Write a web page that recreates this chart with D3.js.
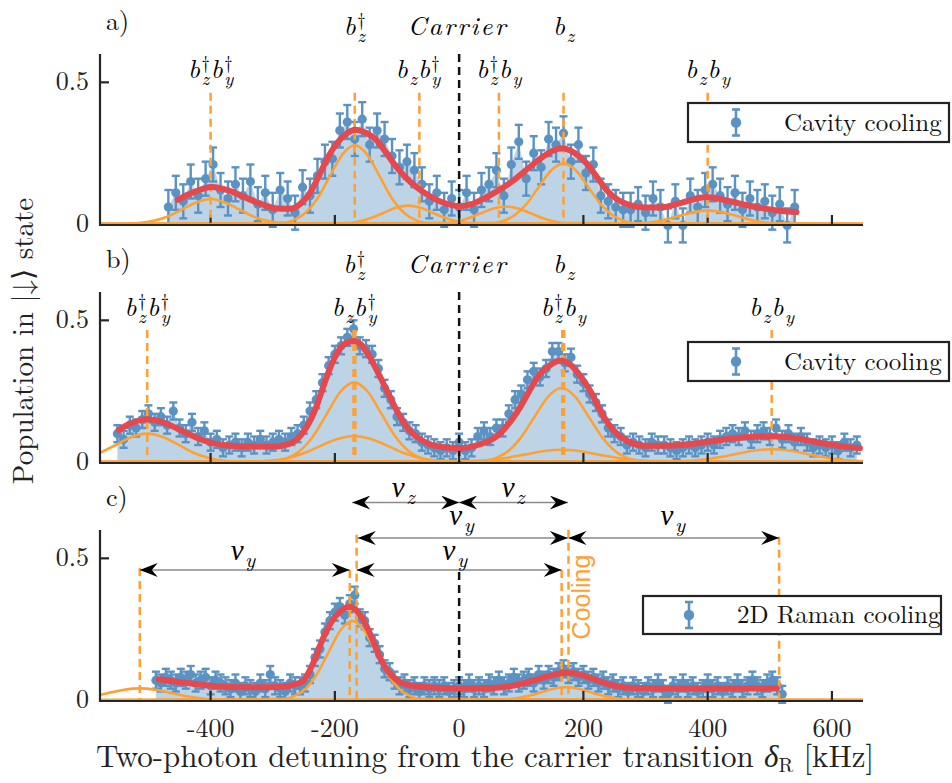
<!DOCTYPE html>
<html>
<head>
<meta charset="utf-8">
<style>
  body { margin: 0; background: #fff; }
  svg { display: block; }
</style>
</head>
<body>
<svg id="chart" width="952" height="783"></svg>
<script src="https://d3js.org/d3.v7.min.js"></script>
<script>
'use strict';

// ---- data: [detuning kHz, population] ----
const xTicks = [-400, -200, 0, 200, 400, 600];
const yTicks = [0, 0.5];
const panelNames = ['a)', 'b)', 'c)'];
const legendNames = ['Cavity cooling', 'Cavity cooling', '2D Raman cooling'];

const scanA = [[-468,0.06],[-456,0.11],[-444,0.08],[-432,0.15],[-420,0.10],[-408,0.16],[-396,0.21],[-384,0.12],[-372,0.09],[-360,0.14],[-348,0.10],[-336,0.15],[-324,0.07],[-312,0.11],[-300,0.05],[-288,0.12],[-276,0.09],[-264,0.04],[-252,0.13],[-240,0.10],[-228,0.17],[-216,0.22],[-204,0.23],[-192,0.33],[-180,0.36],[-168,0.30],[-156,0.37],[-144,0.28],[-132,0.33],[-120,0.30],[-108,0.24],[-96,0.20],[-84,0.22],[-72,0.19],[-60,0.14],[-48,0.08],[-36,0.11],[-24,0.05],[-12,0.09],[0,0.06],[12,0.11],[24,0.05],[36,0.12],[48,0.14],[60,0.19],[72,0.10],[84,0.21],[96,0.29],[108,0.16],[120,0.25],[132,0.20],[144,0.30],[156,0.28],[168,0.32],[180,0.22],[192,0.28],[204,0.18],[216,0.21],[228,0.10],[240,0.08],[252,0.06],[264,0.05],[276,0.05],[288,0.07],[300,0.04],[312,0.09],[324,0.06],[336,-0.005],[348,0.08],[360,-0.005],[372,0.10],[384,0.06],[396,0.12],[408,0.14],[420,0.10],[432,0.07],[444,0.11],[456,0.05],[468,0.09],[480,0.06],[492,0.08],[504,0.04],[516,0.07],[528,-0.005],[540,0.06]];
const errA = 0.06;

const scanB = [[-550,0.10],[-540,0.08],[-530,0.13],[-520,0.12],[-510,0.15],[-500,0.17],[-490,0.14],[-480,0.16],[-470,0.13],[-460,0.18],[-450,0.12],[-440,0.10],[-430,0.14],[-420,0.09],[-410,0.11],[-400,0.07],[-390,0.08],[-380,0.05],[-370,0.06],[-360,0.07],[-350,0.05],[-340,0.07],[-330,0.06],[-320,0.08],[-310,0.06],[-300,0.07],[-290,0.08],[-280,0.07],[-270,0.09],[-260,0.10],[-250,0.13],[-240,0.18],[-230,0.22],[-220,0.28],[-210,0.34],[-200,0.38],[-190,0.41],[-180,0.44],[-170,0.47],[-160,0.41],[-150,0.40],[-140,0.38],[-130,0.33],[-120,0.26],[-110,0.22],[-100,0.16],[-90,0.14],[-80,0.11],[-70,0.10],[-60,0.07],[-50,0.06],[-40,0.05],[-30,0.04],[-20,0.05],[-10,0.04],[0,0.07],[10,0.04],[20,0.05],[30,0.09],[40,0.11],[50,0.09],[60,0.12],[70,0.12],[80,0.17],[90,0.22],[100,0.24],[110,0.29],[120,0.32],[130,0.30],[140,0.33],[150,0.39],[160,0.39],[170,0.35],[180,0.37],[190,0.31],[200,0.28],[210,0.24],[220,0.21],[230,0.17],[240,0.12],[250,0.10],[260,0.09],[270,0.06],[280,0.07],[290,0.06],[300,0.05],[310,0.07],[320,0.06],[330,0.06],[340,0.05],[350,0.04],[360,0.05],[370,0.06],[380,0.05],[390,0.06],[400,0.07],[410,0.06],[420,0.08],[430,0.09],[440,0.10],[450,0.09],[460,0.11],[470,0.08],[480,0.10],[490,0.11],[500,0.09],[510,0.12],[520,0.08],[530,0.10],[540,0.07],[550,0.09],[560,0.07],[570,0.05],[580,0.06],[590,0.05],[600,0.06],[610,0.04],[620,0.07],[630,0.05],[640,0.06]];
const errB = 0.03;

const scanC = [[-488,0.07],[-480,0.06],[-472,0.08],[-464,0.07],[-456,0.06],[-448,0.08],[-440,0.07],[-432,0.09],[-424,0.06],[-416,0.07],[-408,0.08],[-400,0.05],[-392,0.07],[-384,0.06],[-376,0.05],[-368,0.04],[-360,0.06],[-352,0.03],[-344,0.05],[-336,0.04],[-328,0.03],[-320,0.06],[-312,0.04],[-304,0.09],[-296,0.05],[-288,0.04],[-280,0.03],[-272,0.06],[-264,0.05],[-256,0.05],[-248,0.06],[-240,0.09],[-232,0.15],[-224,0.18],[-216,0.24],[-208,0.28],[-200,0.31],[-192,0.33],[-184,0.30],[-176,0.34],[-168,0.37],[-160,0.29],[-152,0.28],[-144,0.22],[-136,0.20],[-128,0.16],[-120,0.11],[-112,0.10],[-104,0.07],[-96,0.05],[-88,0.06],[-80,0.04],[-72,0.05],[-64,0.03],[-56,0.05],[-48,0.04],[-40,0.05],[-32,0.04],[-24,0.05],[-16,0.03],[-8,0.04],[0,0.05],[8,0.04],[16,0.06],[24,0.04],[32,0.05],[40,0.04],[48,0.06],[56,0.05],[64,0.07],[72,0.05],[80,0.06],[88,0.08],[96,0.06],[104,0.07],[112,0.08],[120,0.06],[128,0.09],[136,0.07],[144,0.09],[152,0.08],[160,0.10],[168,0.11],[176,0.09],[184,0.10],[192,0.08],[200,0.09],[208,0.07],[216,0.08],[224,0.06],[232,0.07],[240,0.05],[248,0.06],[256,0.04],[264,0.05],[272,0.03],[280,0.05],[288,0.04],[296,0.03],[304,0.05],[312,0.04],[320,0.06],[328,0.04],[336,0.02],[344,0.05],[352,0.04],[360,0.06],[368,0.04],[376,0.05],[384,0.03],[392,0.04],[400,0.06],[408,0.04],[416,0.05],[424,0.03],[432,0.05],[440,0.04],[448,0.06],[456,0.04],[464,0.05],[472,0.07],[480,0.05],[488,0.04],[496,0.06],[504,0.07],[512,0.05],[520,0.02]];
const errC = 0.03;

// total fit (red), sampled along the curve
const fitA = [[-453,0.085],[-430,0.11],[-398,0.131],[-370,0.118],[-347,0.096],[-320,0.072],[-294,0.055],[-272,0.054],[-256,0.07],[-240,0.11],[-224,0.178],[-210,0.24],[-197,0.284],[-182,0.318],[-167,0.333],[-150,0.322],[-133,0.296],[-117,0.25],[-101,0.202],[-85,0.162],[-69,0.131],[-52,0.105],[-36,0.085],[-18,0.07],[1,0.063],[20,0.07],[40,0.09],[60,0.114],[88,0.155],[114,0.202],[140,0.245],[165,0.267],[185,0.252],[205,0.214],[222,0.165],[237,0.12],[256,0.085],[275,0.067],[300,0.058],[328,0.059],[350,0.07],[375,0.086],[398,0.095],[420,0.088],[440,0.078],[462,0.067],[490,0.055],[515,0.047],[543,0.042]];
const fitB = [[-548,0.113],[-530,0.135],[-515,0.147],[-502,0.151],[-485,0.146],[-465,0.13],[-448,0.112],[-433,0.096],[-410,0.075],[-379,0.06],[-340,0.055],[-299,0.054],[-280,0.06],[-262,0.078],[-245,0.125],[-229,0.2],[-218,0.27],[-208,0.33],[-195,0.39],[-182,0.42],[-169,0.427],[-156,0.41],[-145,0.375],[-133,0.326],[-117,0.255],[-101,0.184],[-85,0.125],[-69,0.09],[-50,0.065],[-25,0.052],[1,0.049],[30,0.06],[60,0.09],[85,0.15],[100,0.2],[114,0.255],[130,0.31],[145,0.34],[163,0.357],[181,0.34],[196,0.3],[210,0.255],[230,0.17],[248,0.113],[270,0.075],[301,0.057],[340,0.058],[382,0.066],[420,0.078],[460,0.087],[503,0.091],[545,0.083],[580,0.068],[615,0.056],[645,0.049]];
const fitC = [[-484,0.073],[-460,0.066],[-433,0.059],[-400,0.05],[-370,0.046],[-330,0.045],[-290,0.046],[-265,0.055],[-250,0.07],[-235,0.13],[-218,0.223],[-200,0.293],[-186,0.322],[-177,0.329],[-166,0.318],[-154,0.282],[-141,0.222],[-128,0.152],[-114,0.1],[-100,0.07],[-80,0.052],[-50,0.045],[0,0.041],[50,0.042],[85,0.05],[114,0.065],[145,0.085],[173,0.096],[198,0.088],[221,0.07],[245,0.053],[275,0.043],[350,0.041],[450,0.041],[511,0.041]];

// single sideband components (orange)
const compsA = [
  [[-578,0],[-535,0.001],[-512,0.004],[-490,0.012],[-467,0.028],[-445,0.053],[-422,0.077],[-400,0.088],[-378,0.077],[-355,0.053],[-333,0.028],[-310,0.012],[-288,0.004],[-265,0.001],[650,0]],
  [[-578,0],[-288,0.003],[-268,0.012],[-248,0.038],[-228,0.09],[-208,0.169],[-188,0.245],[-168,0.278],[-148,0.245],[-128,0.169],[-108,0.09],[-88,0.038],[-68,0.012],[-48,0.003],[650,0]],
  [[-578,0],[-182,0.003],[-162,0.009],[-142,0.021],[-122,0.039],[-102,0.057],[-82,0.065],[-62,0.057],[-42,0.039],[-22,0.021],[-2,0.009],[18,0.003],[650,0]],
  [[-578,0],[-25,0.003],[-5,0.008],[15,0.02],[35,0.038],[55,0.055],[75,0.062],[95,0.055],[115,0.038],[135,0.02],[155,0.008],[175,0.003],[650,0]],
  [[-578,0],[48,0.002],[68,0.009],[88,0.029],[108,0.069],[128,0.13],[148,0.189],[168,0.214],[188,0.189],[208,0.13],[228,0.069],[248,0.029],[268,0.009],[288,0.002],[650,0]],
  [[-578,0],[287,0.002],[310,0.006],[333,0.016],[355,0.029],[378,0.042],[400,0.048],[422,0.042],[445,0.029],[467,0.016],[490,0.006],[513,0.002],[650,0]]
];
const compsB = [
  [[-578,0.032],[-552,0.061],[-527,0.088],[-502,0.10],[-477,0.088],[-452,0.061],[-427,0.032],[-402,0.014],[-377,0.004],[-352,0.001],[650,0]],
  [[-578,0],[-301,0.003],[-279,0.012],[-257,0.038],[-235,0.091],[-213,0.17],[-191,0.248],[-169,0.281],[-147,0.248],[-125,0.17],[-103,0.091],[-81,0.038],[-59,0.012],[-37,0.003],[650,0]],
  [[-578,0],[-334,0.001],[-306,0.004],[-279,0.012],[-251,0.03],[-224,0.056],[-196,0.081],[-169,0.092],[-142,0.081],[-114,0.056],[-87,0.03],[-59,0.012],[-32,0.004],[-4,0.001],[650,0]],
  [[-578,0],[33,0.003],[55,0.011],[77,0.035],[99,0.085],[121,0.158],[143,0.23],[165,0.261],[187,0.23],[209,0.158],[231,0.085],[253,0.035],[275,0.011],[297,0.003],[650,0]],
  [[-578,0],[15,0.002],[45,0.006],[75,0.014],[105,0.026],[135,0.038],[165,0.043],[195,0.038],[225,0.026],[255,0.014],[285,0.006],[315,0.002],[650,0]],
  [[-578,0],[353,0.002],[383,0.006],[413,0.015],[443,0.027],[473,0.04],[503,0.045],[533,0.04],[563,0.027],[593,0.015],[623,0.006],[650,0.003]]
];
const compsC = [
  [[-578,0.018],[-564,0.025],[-539,0.036],[-514,0.041],[-489,0.036],[-464,0.025],[-439,0.013],[-414,0.005],[-389,0.002],[-364,0],[650,0]],
  [[-578,0],[-286,0.003],[-267,0.012],[-248,0.038],[-229,0.091],[-210,0.169],[-191,0.246],[-172,0.279],[-153,0.246],[-134,0.169],[-115,0.091],[-96,0.038],[-77,0.012],[-58,0.003],[650,0]],
  [[-578,0],[72,0.002],[92,0.006],[112,0.015],[132,0.027],[152,0.04],[172,0.045],[192,0.04],[212,0.027],[232,0.015],[252,0.006],[272,0.002],[650,0]]
];

// dashed markers: [detuning, top population, colour]
const linesA = [[-400,0.463,'o'],[-168,0.463,'o'],[-64,0.463,'o'],[64,0.463,'o'],[168,0.463,'o'],[400,0.463,'o'],[0,0.6,'k']];
const linesB = [[-502,0.466,'o'],[-170,0.466,'o'],[-167,0.466,'o'],[166,0.466,'o'],[169,0.466,'o'],[503,0.466,'o'],[0,0.6,'k']];
const linesC = [[-514,0.466,'o'],[-176,0.459,'o'],[-165,0.583,'o'],[165,0.459,'o'],[176,0.601,'o'],[515,0.576,'o'],[0,0.452,'k']];

// sideband labels: [tex-ish text, detuning, row]
const labelsA = [['b_z^†', -168, 1], ['Carrier', -2, 1], ['b_z', 168, 1], ['b_z^† b_y^†', -400, 2], ['b_z b_y^†', -66, 2], ['b_z^† b_y', 64, 2], ['b_z b_y', 400, 2]];
const labelsB = [['b_z^†', -169, 1], ['Carrier', -2, 1], ['b_z', 168, 1], ['b_z^† b_y^†', -502, 2], ['b_z b_y^†', -169, 2], ['b_z^† b_y', 168, 2], ['b_z b_y', 503, 2]];

// panel c trap-frequency arrows: [from, to, population level]
const arrowsC = [[-172,0,0.697],[0,175,0.697],[-163,175,0.572],[176,515,0.572],[-514,-176,0.459],[-165,165,0.459]];
const arrowLabelsC = [['ν_z',-90,0.717],['ν_z',87,0.717],['ν_y',4,0.618],['ν_y',344,0.618],['ν_y',-348,0.495],['ν_y',-7,0.495]];

// ---- drawing ----
const SERIF = "'Latin Modern Roman', 'Liberation Serif', serif";
const GREEK = "'Liberation Serif', serif";
const BLUE = '#5a93c3', FILL = '#bdd4e7', RED = '#e5484d', ORANGE = '#ffa033', AXIS = '#262626';
const svg = d3.select('#chart');
const root = svg.append('g').attr('font-family', SERIF);
const x = d3.scaleLinear().domain([-578, 650]).range([100, 863]);
const tops = [54, 292, 530];

const panels = [
  {scan: scanA, err: errA, fit: fitA, comps: compsA, lines: linesA, labels: labelsA, leg: [688, 49, 261, 39, 736, 784]},
  {scan: scanB, err: errB, fit: fitB, comps: compsB, lines: linesB, labels: labelsB, leg: [688, 50, 261, 39, 736, 784]},
  {scan: scanC, err: errC, fit: fitC, comps: compsC, lines: linesC, labels: [], leg: [643, 66, 298, 38, 689, 737]}
];

svg.append('defs').append('marker').attr('id', 'head')
  .attr('viewBox', '-19 -7 20 14').attr('refX', 0).attr('refY', 0)
  .attr('markerWidth', 20).attr('markerHeight', 14)
  .attr('markerUnits', 'userSpaceOnUse').attr('orient', 'auto-start-reverse')
  .append('path').attr('d', 'M0,0 L-18,-7 L-12,0 L-18,7 Z').attr('fill', '#000');

// one <text> per label; sub/superscripts stacked with dx/dy
function mathLabel(g, cx, by, src, size, family) {
  const t = g.append('text').attr('x', cx).attr('y', by).attr('text-anchor', 'middle')
    .attr('font-family', family || SERIF).attr('font-size', size).attr('font-style', 'italic').attr('fill', '#000');
  const small = size * 0.72, supOff = -size * 0.33, subOff = size * 0.26;
  let cur = 0, pad = 0;
  src.split(' ').forEach(tok => {
    const m = tok.match(/^([^_^]+)(?:_([^_^]+))?(?:\^([^_^]+))?$/);
    const b = t.append('tspan').attr('dy', -cur).attr('dx', pad).text(m[1]);
    if (!m[2] && !m[3]) b.attr('letter-spacing', 2.2);
    cur = 0; pad = 0;
    let supW = 0;
    if (m[3]) {
      const s = t.append('tspan').attr('dx', 1.5).attr('dy', supOff - cur).attr('font-size', small)
        .attr('font-family', SERIF).attr('font-style', 'normal').text(m[3]);
      cur = supOff;
      supW = s.node().getComputedTextLength();
    }
    if (m[2]) {
      const s = t.append('tspan').attr('dx', m[3] ? -supW : 1.5).attr('dy', subOff - cur)
        .attr('font-family', SERIF).attr('font-size', small).text(m[2]);
      cur = subOff;
      pad = Math.max(0, supW - s.node().getComputedTextLength()) + 1;
    }
  });
  if (cur) t.append('tspan').attr('dy', -cur).attr('dx', pad).text('');
}

function drawPanel(p, i) {
  const top = tops[i];
  const y = d3.scaleLinear().domain([0, 0.6]).range([top + 170, top]);
  const g = root.append('g');

  g.append('path').datum(p.scan).attr('fill', FILL)
    .attr('d', d3.area().x(d => x(d[0])).y0(y(0)).y1(d => y(d[1])));

  // measurements with error bars
  const pts = g.selectAll('.pt').data(p.scan).join('g')
    .attr('stroke', BLUE).attr('stroke-width', 2.4).attr('fill', BLUE);
  pts.append('line').attr('x1', d => x(d[0])).attr('x2', d => x(d[0]))
    .attr('y1', d => y(d[1] - p.err)).attr('y2', d => y(d[1] + p.err));
  pts.append('line').attr('x1', d => x(d[0]) - 4).attr('x2', d => x(d[0]) + 4)
    .attr('y1', d => y(d[1] - p.err)).attr('y2', d => y(d[1] - p.err));
  pts.append('line').attr('x1', d => x(d[0]) - 4).attr('x2', d => x(d[0]) + 4)
    .attr('y1', d => y(d[1] + p.err)).attr('y2', d => y(d[1] + p.err));
  pts.append('circle').attr('cx', d => x(d[0])).attr('cy', d => y(d[1]))
    .attr('r', 4.6).attr('stroke', 'none');

  const curve = d3.line().x(d => x(d[0])).y(d => y(d[1])).curve(d3.curveMonotoneX);
  g.selectAll('.comp').data(p.comps).join('path')
    .attr('fill', 'none').attr('stroke', ORANGE).attr('stroke-width', 2.6).attr('d', curve);

  // spines and inward ticks
  const ax = g.append('g').attr('stroke', AXIS).attr('stroke-width', 2.2);
  ax.append('line').attr('x1', x.range()[0]).attr('x2', x.range()[0]).attr('y1', y(0.6)).attr('y2', y(0) + 1);
  ax.append('line').attr('x1', x.range()[0] - 1).attr('x2', x.range()[1]).attr('y1', y(0) + 1).attr('y2', y(0) + 1);
  ax.selectAll('.xt').data(xTicks).join('line')
    .attr('x1', d => x(d)).attr('x2', d => x(d)).attr('y1', y(0)).attr('y2', y(0) - 9);
  ax.selectAll('.yt').data(yTicks.filter(v => v > 0)).join('line')
    .attr('x1', x.range()[0]).attr('x2', x.range()[0] + 9).attr('y1', d => y(d)).attr('y2', d => y(d));
  g.selectAll('.yl').data(yTicks).join('text')
    .attr('x', 89).attr('y', d => y(d) + 8).attr('text-anchor', 'end')
    .attr('font-size', 26).attr('fill', '#222').text(d => d);

  g.selectAll('.dl').data(p.lines).join('line')
    .attr('x1', d => x(d[0])).attr('x2', d => x(d[0]))
    .attr('y1', d => y(d[1])).attr('y2', y(0))
    .attr('stroke', d => d[2] === 'k' ? '#111' : ORANGE)
    .attr('stroke-width', 2.5).attr('stroke-dasharray', '8,5');

  g.append('path').datum(p.fit).attr('fill', 'none').attr('stroke', RED)
    .attr('stroke-width', 6).attr('stroke-linecap', 'round').attr('d', curve);

  p.labels.forEach(l => {
    mathLabel(g, x(l[1]), l[2] === 1 ? top - 19 : top + 24, l[0], 26);
  });

  g.append('text').attr('x', 106).attr('y', top - 24).attr('font-size', 26)
    .attr('fill', '#111').text(panelNames[i]);

  // legend
  const [lx, ly, lw, lh, mx, tx] = p.leg;
  const lg = g.append('g');
  lg.append('rect').attr('x', lx).attr('y', top + ly).attr('width', lw).attr('height', lh)
    .attr('fill', '#fff').attr('stroke', '#222').attr('stroke-width', 2.2);
  const my = top + ly + lh / 2;
  const lm = lg.append('g').attr('stroke', BLUE).attr('stroke-width', 2.6).attr('fill', BLUE);
  lm.append('line').attr('x1', mx).attr('x2', mx).attr('y1', my - 13).attr('y2', my + 13);
  lm.append('line').attr('x1', mx - 4).attr('x2', mx + 4).attr('y1', my - 13).attr('y2', my - 13);
  lm.append('line').attr('x1', mx - 4).attr('x2', mx + 4).attr('y1', my + 13).attr('y2', my + 13);
  lm.append('circle').attr('cx', mx).attr('cy', my).attr('r', 5.2).attr('stroke', 'none');
  lg.append('text').attr('x', tx).attr('y', my + 8).attr('font-size', 25)
    .attr('fill', '#111').text(legendNames[i]);

  return y;
}

const ys = panels.map(drawPanel);

// panel c: trap frequency arrows
const yc = ys[2];
const gc = root.append('g');
gc.selectAll('.arr').data(arrowsC).join('line')
  .attr('x1', d => x(d[0])).attr('x2', d => x(d[1]))
  .attr('y1', d => yc(d[2])).attr('y2', d => yc(d[2]))
  .attr('stroke', '#8a8a8a').attr('stroke-width', 1.4)
  .attr('marker-start', 'url(#head)').attr('marker-end', 'url(#head)');
arrowLabelsC.forEach(l => mathLabel(gc, x(l[1]), yc(l[2]), l[0], 29, GREEK));

gc.append('text')
  .attr('transform', 'translate(590,597) rotate(-90)')
  .attr('text-anchor', 'middle').attr('font-family', "'Liberation Sans', Arial, sans-serif")
  .attr('font-size', 25).attr('fill', ORANGE).text('Cooling');

// x tick labels and axis titles
root.selectAll('.xl').data(xTicks).join('text')
  .attr('x', d => x(d)).attr('y', ys[2](0) + 37).attr('text-anchor', 'middle')
  .attr('font-size', 26).attr('fill', '#222').text(d => d);

const xt = root.append('text').attr('x', 485).attr('y', 767).attr('text-anchor', 'middle')
  .attr('font-size', 31).attr('fill', '#222');
xt.append('tspan').text('Two-photon detuning from the carrier transition ');
xt.append('tspan').attr('font-family', GREEK).attr('font-style', 'italic').text('δ');
xt.append('tspan').attr('font-size', 20).attr('dy', 5).text('R');
xt.append('tspan').attr('dy', -5).text(' [kHz]');

root.append('text').attr('transform', 'translate(33,341) rotate(-90)')
  .attr('text-anchor', 'middle').attr('font-size', 29).attr('fill', '#222')
  .text('Population in |↓⟩ state');
</script>
</body>
</html>
